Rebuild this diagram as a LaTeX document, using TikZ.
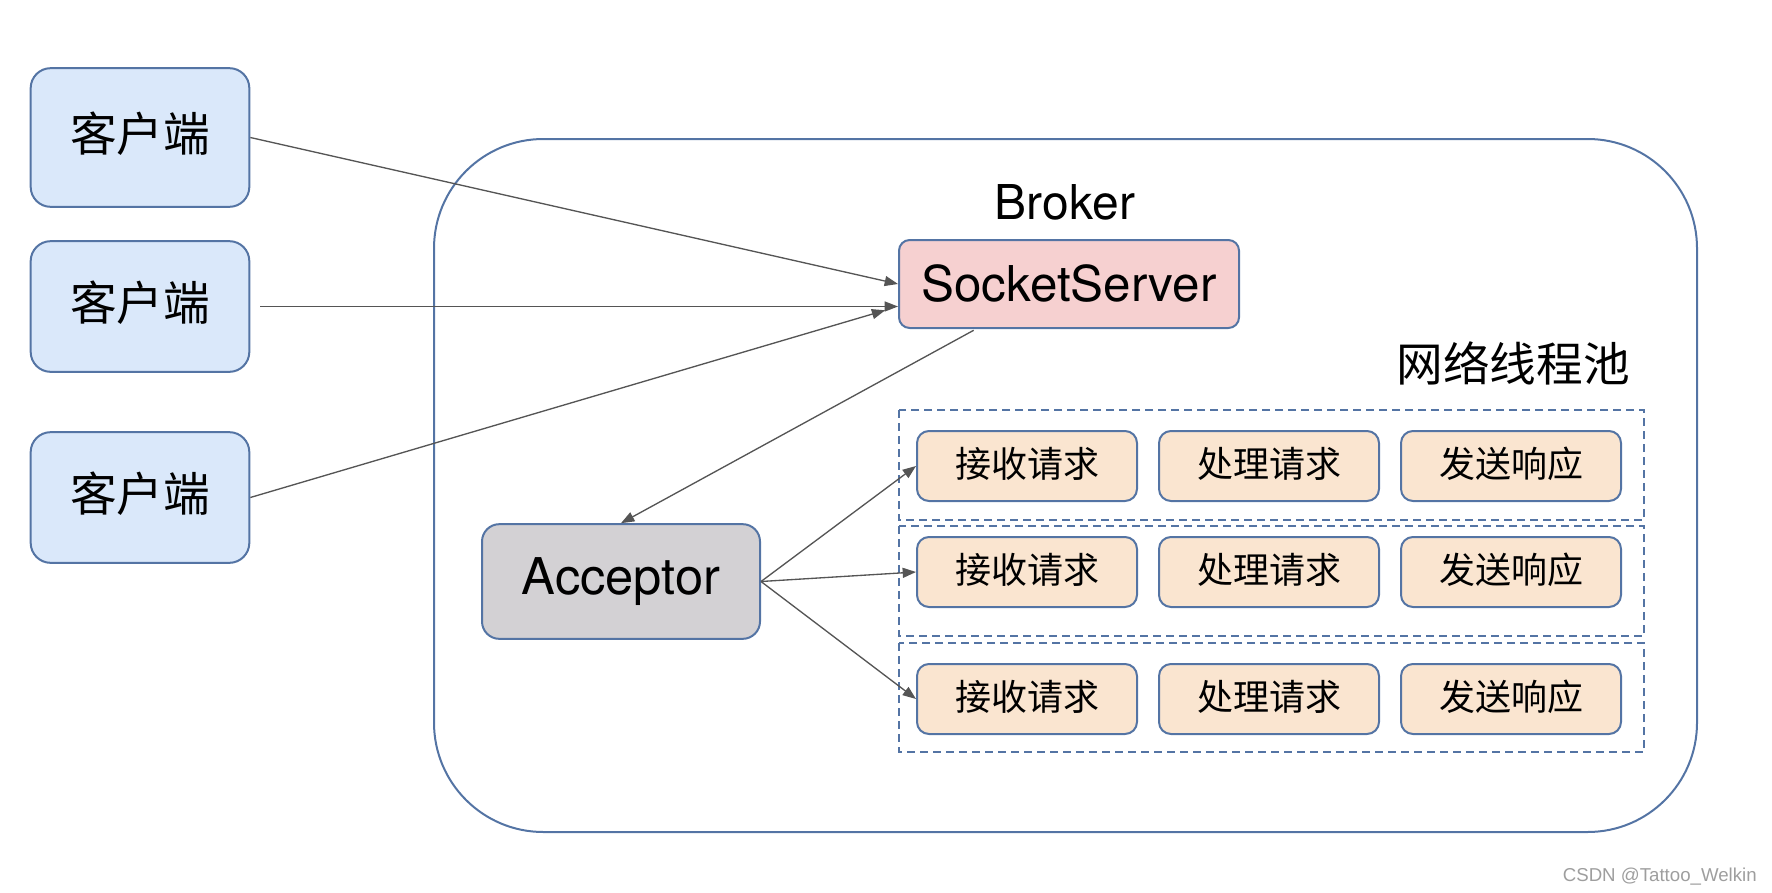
\documentclass[tikz,border=0pt]{standalone}
\usepackage{fontspec}
\setmainfont{TeX Gyre Heros}
\newfontfamily\cjk{Noto Sans CJK SC}
\newfontfamily\markfont{Liberation Sans}
\usetikzlibrary{arrows.meta}

\definecolor{boxblue}{RGB}{84,116,164}
\definecolor{clientfill}{RGB}{218,232,250}
\definecolor{serverfill}{RGB}{246,208,208}
\definecolor{stepfill}{RGB}{250,229,208}
\definecolor{acceptfill}{RGB}{211,209,212}
\definecolor{arrowgray}{RGB}{85,85,85}

\tikzset{
  client/.style={draw=boxblue, fill=clientfill, line width=1.5pt, rounded corners=15pt,
    minimum width=164pt, minimum height=98pt, inner sep=0pt, text depth=9pt, font=\cjk\fontsize{35}{40}\selectfont},
  stepbox/.style={draw=boxblue, fill=stepfill, line width=1.5pt, rounded corners=9pt,
    minimum width=165pt, minimum height=52.5pt, inner sep=0pt, text depth=5pt, font=\cjk\fontsize{27}{32}\selectfont},
  pool/.style={draw=boxblue, line width=1.3pt, dash pattern=on 6pt off 3.75pt},
  conn/.style={draw=arrowgray, line width=1pt, -{Triangle[length=10pt,width=7.5pt]}}
}

\begin{document}
\begin{tikzpicture}[x=0.75pt,y=0.75pt,yscale=-1,xscale=1]
\useasboundingbox (0,0) rectangle (1772,892);

%Shape: Rounded Rect (Broker)
\draw [draw=boxblue, line width=1.5pt, rounded corners=82pt] (434,139) rectangle (1697,832) ;

%Shape: Rounded Rect (clients)
\node [client, minimum height=104pt] (c1) at (140,137.5) {客户端};
\node [client] (c2) at (140,306.5) {客户端};
\node [client] (c3) at (140,497.5) {客户端};

% Text Node
\node [inner sep=0pt, anchor=base, font=\fontsize{36}{40}\selectfont] (broker) at (1065,219) {Broker};

%Shape: Rounded Rect (SocketServer)
\node [draw=boxblue, fill=serverfill, line width=1.5pt, rounded corners=8pt, minimum width=255pt, minimum height=66pt,
  inner sep=0pt, font=\fontsize{37}{40}\selectfont] (ss) at (1069,284) {SocketServer};

% Text Node
\node [inner sep=0pt, font=\cjk\fontsize{35}{40}\selectfont] (pooltitle) at (1513,363) {网络线程池};

%Shape: Dashed Rect (thread rows)
\draw [pool] (899,410) rectangle (1644,520) ;
\draw [pool] (899,526) rectangle (1644,636) ;
\draw [pool] (899,643) rectangle (1644,752) ;

%Shape: Rounded Rect (row 1)
\node [stepbox] (r1a) at (1027,466) {接收请求};
\node [stepbox] (r1b) at (1269,466) {处理请求};
\node [stepbox] (r1c) at (1511,466) {发送响应};
%Shape: Rounded Rect (row 2)
\node [stepbox] (r2a) at (1027,572) {接收请求};
\node [stepbox] (r2b) at (1269,572) {处理请求};
\node [stepbox] (r2c) at (1511,572) {发送响应};
%Shape: Rounded Rect (row 3)
\node [stepbox] (r3a) at (1027,699) {接收请求};
\node [stepbox] (r3b) at (1269,699) {处理请求};
\node [stepbox] (r3c) at (1511,699) {发送响应};

%Shape: Rounded Rect (Acceptor)
\node [draw=boxblue, fill=acceptfill, line width=1.5pt, rounded corners=13pt, minimum width=208.5pt, minimum height=86pt,
  inner sep=0pt, font=\fontsize{38}{40}\selectfont] (acc) at (621,581.5) {Acceptor};

%Straight Lines (clients to SocketServer)
\draw [conn] (c1.east) -- (ss.west) ;
\draw [conn, shorten <=7.5pt] (c2.east) -- (c2.east -| ss.west) ;
\draw [conn, shorten >=10pt] (c3.east) -- (c2.east -| ss.west) ;

%Straight Lines (SocketServer to Acceptor)
\draw [conn, shorten <=2pt] ([xshift=58.5pt]ss.south west) -- (acc.north) ;

%Straight Lines (Acceptor to rows)
\draw [conn] (acc.east) -- (r1a.west) ;
\draw [conn] (acc.east) -- (r2a.west) ;
\draw [conn] (acc.east) -- (r3a.west) ;

% Text Node
\node [inner sep=0pt, anchor=base east, text=black!38, font=\markfont\fontsize{14}{16}\selectfont] (mark) at (1757,881) {CSDN @Tattoo\_Welkin};

\end{tikzpicture}
\end{document}
